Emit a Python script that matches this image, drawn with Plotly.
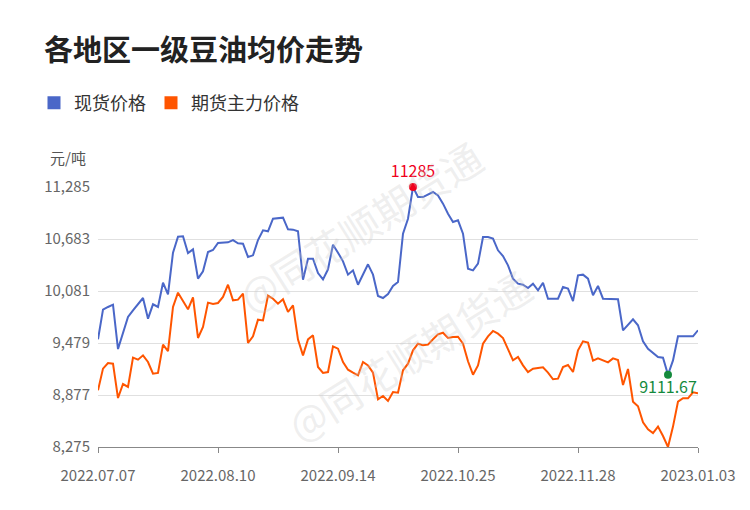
import plotly.graph_objects as go

tick_labels = ["2022.07.07", "2022.08.10", "2022.09.14", "2022.10.25", "2022.11.28", "2023.01.03"]
tick_index = [0, 24, 48, 72, 96, 120]

spot = [9521, 9865, 9896, 9923, 9409, 9607, 9780, 9857, 9934, 10000,
        9761, 9927, 9896, 10177, 10042, 10525, 10710, 10714, 10521, 10563,
        10224, 10309, 10532, 10556, 10637, 10644, 10644, 10671, 10633, 10629,
        10475, 10494, 10671, 10783, 10772, 10918, 10925, 10930, 10795, 10791,
        10772, 10212, 10455, 10455, 10289, 10216, 10332, 10617, 10525, 10424,
        10270, 10320, 10154, 10278, 10390, 10270, 10023, 10000, 10046, 10139,
        10185, 10745, 10918, 11285, 11169, 11169, 11196, 11227, 11188, 11092,
        10976, 10880, 10899, 10745, 10340, 10320, 10397, 10706, 10706, 10687,
        10552, 10486, 10378, 10224, 10166, 10154, 10116, 10166, 10089, 10177,
        9992, 9992, 9992, 10127, 10108, 9965, 10262, 10270, 10224, 10031,
        10139, 9992, 9992, 9992, 9985, 9626, 9684, 9753, 9684, 9498,
        9413, 9367, 9317, 9309, 9111.67, 9278, 9556, 9556, 9556, 9556, 9626]

futures = [8931, 9182, 9247, 9240, 8842, 9004, 8970, 9309, 9286, 9336,
           9259, 9124, 9132, 9460, 9386, 9896, 10062, 9965, 9869, 10008,
           9537, 9664, 9946, 9930, 9942, 10012, 10154, 9973, 9981, 10050,
           9479, 9556, 9749, 9741, 10027, 9992, 9934, 9985, 9838, 9915,
           9518, 9336, 9521, 9568, 9201, 9132, 9143, 9440, 9413, 9259,
           9170, 9136, 9105, 9259, 9220, 9136, 8827, 8866, 8808, 8912,
           8904, 9163, 9240, 9394, 9471, 9452, 9460, 9522, 9579, 9598,
           9537, 9548, 9552, 9471, 9267, 9112, 9220, 9471, 9556, 9618,
           9587, 9537, 9413, 9278, 9317, 9220, 9143, 9182, 9190, 9197,
           9136, 9059, 9066, 9201, 9224, 9143, 9394, 9498, 9483, 9274,
           9301, 9278, 9255, 9301, 9282, 8993, 9178, 8800, 8746, 8561,
           8480, 8437, 8511, 8402, 8275, 8511, 8800, 8839, 8839, 8908, 8897]

y_ticks = [8275, 8877, 9479, 10081, 10683, 11285]

x = list(range(len(spot)))
font = "Noto Sans CJK SC"
blue, orange = "#4a67c8", "#ff5500"

fig = go.Figure()
fig.add_trace(go.Scatter(x=x, y=spot, mode="lines", showlegend=False,
                         line=dict(color=blue, width=2)))
fig.add_trace(go.Scatter(x=x, y=futures, mode="lines", showlegend=False,
                         line=dict(color=orange, width=2)))
# legend entries with square swatches
for name, c in [("现货价格", blue), ("期货主力价格", orange)]:
    fig.add_trace(go.Scatter(x=[None], y=[None], mode="markers", name=name,
                             marker=dict(color=c, size=13, symbol="square")))

imax = spot.index(max(spot))
imin = spot.index(min(spot))
fig.add_trace(go.Scatter(x=[imax], y=[spot[imax]], mode="markers+text",
                         marker=dict(color="#f0001c", size=8),
                         text=["11285"], textposition="top center",
                         textfont=dict(color="#f0001c", size=16),
                         cliponaxis=False, showlegend=False))
fig.add_trace(go.Scatter(x=[imin], y=[spot[imin]], mode="markers+text",
                         marker=dict(color="#148a3c", size=8),
                         text=["9111.67"], textposition="bottom center",
                         textfont=dict(color="#148a3c", size=16),
                         cliponaxis=False, showlegend=False))

# pixel-placed texts (converted to paper coords below)
ann = []
for ax, ay in [(360, 125), (545, 355)]:
    ann.append(dict(x=ax, y=ay, text="@同花顺期货通", showarrow=False, textangle=-32,
                    font=dict(size=40, color="rgba(200,200,200,0.3)", family=font)))
ann.append(dict(x=42, y=48, text="<b>各地区一级豆油均价走势</b>", showarrow=False,
                xanchor="left", yanchor="middle", font=dict(size=29, color="#222", family=font)))
ann.append(dict(x=48, y=157, text="元/吨", showarrow=False, xanchor="left", yanchor="middle",
                font=dict(size=15, color="#555", family=font)))

off = 8
pl, pt, pw, ph = 98 - off, 187 - off, 600, 260
for a in ann:
    a["x"] = (a["x"] - off - pl) / pw
    a["y"] = (pt + ph - (a["y"] - off)) / ph
    a["xref"] = "paper"
    a["yref"] = "paper"
    fig.add_annotation(**a)

fig.update_layout(
    width=750, height=510,
    margin=dict(l=pl, r=750 - pl - pw, t=pt, b=510 - pt - ph),
    plot_bgcolor="white", paper_bgcolor="white",
    font=dict(family=font, size=15, color="#555"),
    legend=dict(orientation="h", x=(34 - off - pl) / pw, xanchor="left",
                y=(pt + ph - (103 - off)) / ph, yanchor="middle",
                font=dict(size=18, color="#333"), itemwidth=30, tracegroupgap=0),
    xaxis=dict(range=[0, 120], tickvals=tick_index, ticktext=tick_labels,
               showgrid=False, showline=True, linecolor="#888", ticks="outside",
               tickcolor="#888", ticklen=5, ticklabelstandoff=10,
               tickfont=dict(size=15, color="#666"), zeroline=False),
    yaxis=dict(range=[8275, 11285], tickvals=y_ticks,
               ticktext=[f"{v:,}" for v in y_ticks], ticklabelstandoff=7,
               showgrid=True, gridcolor="#e0e0e0", zeroline=False,
               tickfont=dict(size=15, color="#666")),
)

fig.write_html("out.html")
